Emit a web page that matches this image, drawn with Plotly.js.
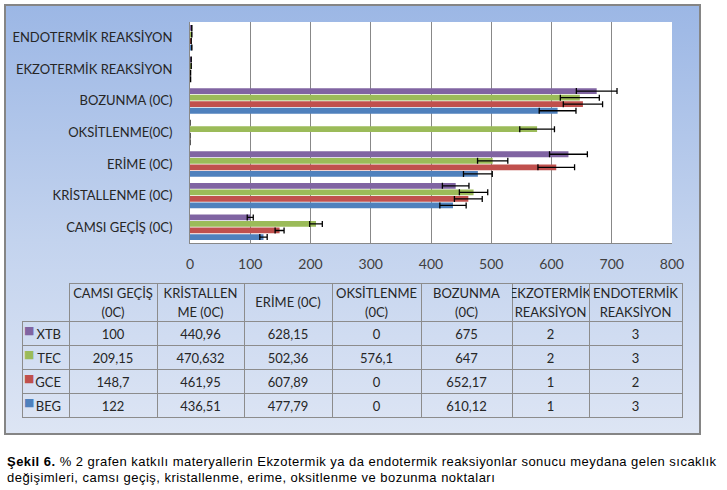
<!DOCTYPE html>
<html>
<head>
<meta charset="utf-8">
<script src="https://cdn.plot.ly/plotly-3.0.1.min.js"></script>
<style>
  html, body { margin: 0; padding: 0; background: #fff; }
  #page { position: relative; width: 727px; height: 490px; overflow: hidden; }
  #frame {
    position: absolute; left: 4px; top: 4px; width: 693px; height: 427px;
    border: 2px solid #858585;
    background: linear-gradient(to bottom, #9cb7e5 0%, #c3d3ee 55%, #dde5f4 100%);
  }
  #chart { position: absolute; left: 0; top: 0; width: 727px; height: 490px; }
  #caption {
    position: absolute; left: 7px; top: 454px; width: 720px;
    font-family: "Liberation Sans", Arial, sans-serif; font-size: 13px;
    letter-spacing: 0.47px; line-height: 16px; color: #000; white-space: nowrap;
  }
</style>
</head>
<body>
<div id="page">
  <div id="frame"></div>
  <div id="chart"></div>
  <div id="caption"><b>Şekil 6.</b> % 2 grafen katkılı materyallerin Ekzotermik ya da endotermik reaksiyonlar sonucu meydana gelen sıcaklık<br>değişimleri, camsı geçiş, kristallenme, erime, oksitlenme ve bozunma noktaları</div>
</div>
<script>
// ── Data ──────────────────────────────────────────────────────
var categories = ['CAMSI GEÇİŞ (0C)', 'KRİSTALLENME (0C)', 'ERİME (0C)', 'OKSİTLENME(0C)',
                  'BOZUNMA (0C)', 'EKZOTERMİK REAKSİYON', 'ENDOTERMİK REAKSİYON'];
// table header, one entry per column: [line 1, line 2]
var tableHeaders = [['CAMSI GEÇİŞ', '(0C)'], ['KRİSTALLEN', 'ME (0C)'], ['ERİME (0C)'],
                    ['OKSİTLENME', '(0C)'], ['BOZUNMA', '(0C)'], ['EKZOTERMİK', 'REAKSİYON'],
                    ['ENDOTERMİK', 'REAKSİYON']];
var xtb = [100, 440.96, 628.15, 0, 675, 2, 3];
var tec = [209.15, 470.632, 502.36, 576.1, 647, 2, 3];
var gce = [148.7, 461.95, 607.89, 0, 652.17, 1, 2];
var beg = [122, 436.51, 477.79, 0, 610.12, 1, 3];
var errPct = 5;
var xTicks = [0, 100, 200, 300, 400, 500, 600, 700, 800];

// ── Series (bottom of each group first) ──────────────────────
var series = [
    { name: 'BEG', vals: beg, col: '#4f81bd' },
    { name: 'GCE', vals: gce, col: '#c0504d' },
    { name: 'TEC', vals: tec, col: '#9bbb59' },
    { name: 'XTB', vals: xtb, col: '#8064a2' }
];

var W = 727, H = 490;
var FONT = 'Lato, "Open Sans", sans-serif';
var TXT  = '#262626';
var NONE = 'rgba(0,0,0,0)';
var lineCol = '#8c8c8c';

var traces = series.map(function (s) {
    return {
        type: 'bar', orientation: 'h', name: s.name,
        x: s.vals, y: categories,
        marker: { color: s.col },
        error_x: { type: 'percent', value: errPct, color: '#000', thickness: 1.3, width: 3 },
        hoverinfo: 'x+name', showlegend: false
    };
});

// ── Data table under the chart ───────────────────────────────
// plotly wraps table text on plain spaces, so use no-break spaces
function nb(s) { return s.replace(/ /g, '\u00a0'); }
function fmt(v) { return String(v).replace('.', ','); }
var tableRows = series.slice().reverse();   // XTB, TEC, GCE, BEG
var colW = [47, 88, 87, 88, 89, 91, 77, 93];
var tabX = [22 / W, 682 / W];
var tabTop = 283, tabBot = 432;
function dom(dy) { return { x: tabX, y: [(H - tabBot - dy) / H, (H - tabTop + dy) / H] }; }
function blanks() { return tableRows.map(function () { return ''; }); }

// grid + body values
var bodyCols = [tableRows.map(function (s) { return s.name; })];
categories.forEach(function (c, i) {
    bodyCols.push(tableRows.map(function (s) { return fmt(s.vals[i]); }));
});
traces.push({
    type: 'table', domain: dom(0), columnwidth: colW,
    header: {
        values: colW.map(function () { return ''; }), height: 38,
        fill: { color: NONE },
        line: { color: [NONE].concat(tableHeaders.map(function () { return lineCol; })), width: 1 }
    },
    cells: {
        values: bodyCols,
        align: ['right', 'center', 'center', 'center', 'center', 'center', 'center', 'center'],
        height: 24, fill: { color: NONE },
        line: { color: lineCol, width: 1 },
        font: { family: FONT, size: 13, color: TXT }
    }
});

// two-line header text (no lines, drawn over the grid)
var headCols = [['', '']].concat(tableHeaders.map(function (hd) {
    return hd.length === 2 ? [nb(hd[0]), nb(hd[1])] : ['', ''];
}));
traces.push({
    type: 'table', domain: dom(3), columnwidth: colW,
    header: {
        values: headCols, height: 19, align: 'center',
        fill: { color: NONE }, line: { color: NONE, width: 0 },
        font: { family: FONT, size: 13, color: TXT }
    },
    cells: {
        values: colW.map(blanks), height: 24,
        fill: { color: NONE }, line: { color: NONE, width: 0 }
    }
});

// legend keys in the first column
traces.push({
    type: 'table', columnwidth: [colW[0]],
    domain: { x: [16 / W, (16 + colW[0]) / W], y: dom(3).y },
    header: {
        values: [''], height: 38,
        fill: { color: NONE }, line: { color: NONE, width: 0 }
    },
    cells: {
        values: [tableRows.map(function () { return '■'; })], height: 24, align: 'left',
        fill: { color: NONE }, line: { color: NONE, width: 0 },
        font: { family: 'DejaVu Sans, sans-serif', size: 11,
                color: [tableRows.map(function (s) { return s.col; })] }
    }
});

// one-line header entries, vertically centred in the header cell
tableHeaders.forEach(function (hd, i) {
    if (hd.length === 1) {
        var x0 = 22 + colW.slice(0, i + 1).reduce(function (a, b) { return a + b; }, 0);
        traces.push({
            type: 'table', columnwidth: [colW[i + 1]],
            domain: { x: [x0 / W, (x0 + colW[i + 1]) / W], y: [(H - tabBot) / H, (H - tabTop - 6) / H] },
            header: {
                values: [nb(hd[0])], height: 19, align: 'center',
                fill: { color: NONE }, line: { color: NONE, width: 0 },
                font: { family: FONT, size: 13, color: TXT }
            },
            cells: { values: [[]], fill: { color: NONE }, line: { color: NONE, width: 0 } }
        });
    }
});

Plotly.newPlot('chart', traces, {
    width: W, height: H,
    margin: { l: 0, r: 0, t: 0, b: 0 },
    paper_bgcolor: NONE, plot_bgcolor: '#ffffff',
    barmode: 'group', bargap: 0.17, bargroupgap: 0.12,
    font: { family: FONT, size: 13, color: TXT },
    xaxis: {
        domain: [190 / W, 672 / W],
        range: [0, 800], tickvals: xTicks, ticks: '',
        showgrid: true, gridcolor: '#888888', gridwidth: 1,
        showline: true, linecolor: '#888888', linewidth: 1,
        zeroline: false, ticklabelstandoff: 8, automargin: false,
        tickfont: { family: FONT, size: 14, color: '#404040' }
    },
    yaxis: {
        domain: [(H - 243) / H, (H - 22) / H],
        type: 'category', categoryorder: 'array', categoryarray: categories,
        showgrid: false, ticks: '', automargin: false,
        showline: true, linecolor: '#888888', linewidth: 1,
        ticklabelstandoff: 14,
        tickfont: { family: FONT, size: 13, color: TXT }
    }
}, { displayModeBar: false, staticPlot: true });
</script>
</body>
</html>
